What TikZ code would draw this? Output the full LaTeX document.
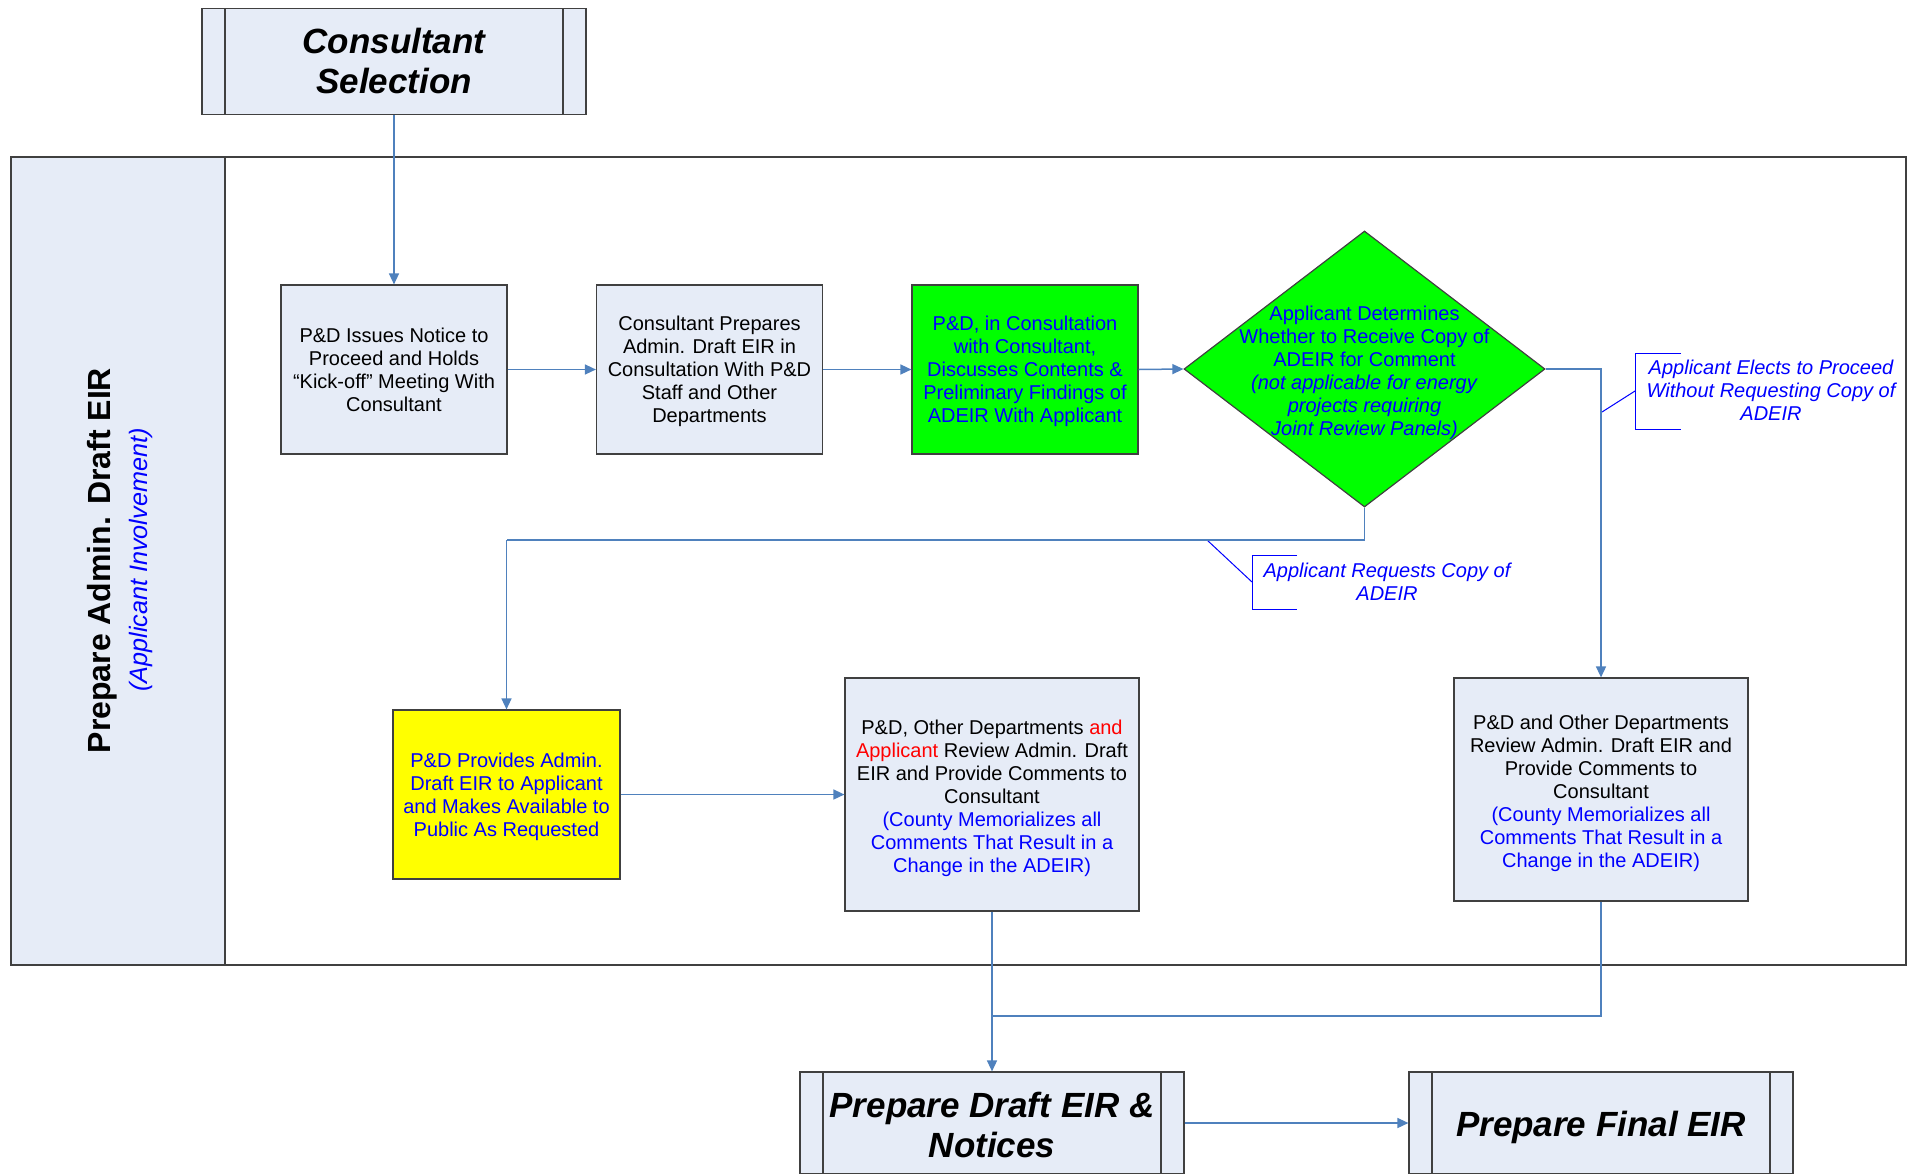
\documentclass[tikz,border=0pt]{standalone}
\usepackage{fontspec}
\setmainfont{Liberation Sans}
\usetikzlibrary{arrows.meta,shapes.geometric,calc}
\definecolor{boxfill}{RGB}{230,236,247}
\definecolor{conn}{RGB}{79,129,189}
\definecolor{edge}{RGB}{64,64,64}
\definecolor{txtblue}{RGB}{0,0,255}
\definecolor{txtred}{RGB}{255,0,0}
\definecolor{grn}{RGB}{0,255,0}
\definecolor{ylw}{RGB}{255,255,0}
\begin{document}
\begin{tikzpicture}[x=0.5pt,y=-0.5pt,
  every node/.style={inner sep=0pt},
  procbox/.style={draw=edge,line width=0.6pt,fill=boxfill,minimum width=113pt,minimum height=84.5pt},
  bigbox/.style={procbox,minimum width=147pt},
  boxtext/.style={align=center,font=\fontsize{10}{11.5}\selectfont},
  subproc/.style={draw=edge,line width=0.6pt,fill=boxfill,
    minimum width=192pt,minimum height=53pt,
    path picture={
      \draw[edge,line width=0.6pt] ([xshift=11.5pt]path picture bounding box.north west) -- ([xshift=11.5pt]path picture bounding box.south west);
      \draw[edge,line width=0.6pt] ([xshift=-11.5pt]path picture bounding box.north east) -- ([xshift=-11.5pt]path picture bounding box.south east);}},
  subtext/.style={align=center,font=\fontsize{17.5}{20}\selectfont\bfseries\itshape},
  arr/.style={draw=conn,line width=0.75pt,-{Triangle[length=5.5pt,width=5pt]}},
  ln/.style={draw=conn,line width=0.75pt},
  annot/.style={align=center,text=txtblue,font=\fontsize{10}{11.5}\selectfont\itshape},
  brk/.style={draw=txtblue,line width=0.5pt}]
\useasboundingbox (0,0) rectangle (1910,1173);

% swimlane
\draw[edge,line width=0.6pt] (11,157) rectangle (1906,965);
\filldraw[draw=edge,line width=0.6pt,fill=boxfill] (11,157) rectangle (225,965);
\node[rotate=90,anchor=base,font=\fontsize{16}{19}\selectfont\bfseries] (lanetitle) at (110,560.5) {Prepare Admin. Draft EIR};
\node[rotate=90,anchor=base,text=txtblue,font=\fontsize{12.6}{15}\selectfont\itshape] (lanesub) at (147,560) {(Applicant Involvement)};

% boxes
\node[subproc] (cs) at (394,61.5) {};
\node[subtext] (cstxt) at (394,61) {Consultant\\Selection};
\node[procbox] (b1) at (394,369.5) {};
\node[boxtext] (b1txt) at (394,369.5) {P\&D Issues Notice to\\Proceed and Holds\\“Kick-off” Meeting With\\Consultant};
\node[procbox] (b2) at (709.5,369.5) {};
\node[boxtext] (b2txt) at (709.5,371.5) {Consultant Prepares\\Admin. Draft EIR in\\Consultation With P\&D\\Staff and Other\\Departments};
\node[procbox,fill=grn,draw=edge] (b3) at (1025,369.5) {};
\node[boxtext,text=txtblue] (b3txt) at (1025,371.5) {P\&D, in Consultation\\with Consultant,\\Discusses Contents \&\\Preliminary Findings of\\ADEIR With Applicant};
\node[draw=edge,line width=0.6pt,fill=grn,diamond,minimum width=180.5pt,minimum height=138pt] (dec) at (1364.5,369) {};
\node[boxtext,text=txtblue] (dectxt) at (1364.5,373) {Applicant Determines\\Whether to Receive Copy of\\ADEIR for Comment\\\textit{(not applicable for energy}\\\textit{projects requiring}\\\textit{Joint Review Panels)}};
\node[procbox,fill=ylw,minimum width=113.5pt] (yel) at (506.5,794.5) {};
\node[boxtext,text=txtblue] (yeltxt) at (506.5,796.5) {P\&D Provides Admin.\\Draft EIR to Applicant\\and Makes Available to\\Public As Requested};
\node[bigbox,minimum height=116.5pt] (r1) at (992,794.5) {};
\node[boxtext] (r1txt) at (992,798.5) {P\&D, Other Departments \textcolor{txtred}{and}\\\textcolor{txtred}{Applicant} Review Admin. Draft\\EIR and Provide Comments to\\Consultant\\\textcolor{txtblue}{(County Memorializes all}\\\textcolor{txtblue}{Comments That Result in a}\\\textcolor{txtblue}{Change in the ADEIR)}};
\node[bigbox,minimum height=111.5pt] (r2) at (1601,789.5) {};
\node[boxtext] (r2txt) at (1601,793.5) {P\&D and Other Departments\\Review Admin. Draft EIR and\\Provide Comments to\\Consultant\\\textcolor{txtblue}{(County Memorializes all}\\\textcolor{txtblue}{Comments That Result in a}\\\textcolor{txtblue}{Change in the ADEIR)}};
\node[subproc,minimum height=51pt] (draft) at (992,1123) {};
\node[subtext] (drafttxt) at (992,1124.5) {Prepare Draft EIR \&\\Notices};
\node[subproc,minimum height=51pt] (final) at (1601,1123) {};
\node[subtext] (finaltxt) at (1601,1127.5) {Prepare Final EIR};

% annotations
\node[annot] (ann1) at (1771,390) {Applicant Elects to Proceed\\Without Requesting Copy of\\ADEIR};
\node[annot] (ann2) at (1387,582) {Applicant Requests Copy of\\ADEIR};
\draw[brk] (1681,353) -- (1635,353) -- (1635,429) -- (1681,429);
\coordinate (a1s) at (1602,412);
\coordinate (a1e) at (1635,391);
\draw[brk] (a1s) -- (a1e);
\draw[brk] (1297,555) -- (1252,555) -- (1252,609) -- (1297,609);
\coordinate (a2s) at (1207,540);
\coordinate (a2e) at (1252,582);
\draw[brk] (a2s) -- (a2e);

% connectors
\draw[arr] (cs.south) -- (b1.north);
\draw[arr] (b1.east) -- (b2.west);
\draw[arr] (b2.east) -- (b3.west);
\draw[arr] (b3.east) -- (dec.west);
\draw[arr] (dec.east) -| (r2.north);
\coordinate (j1) at (506.5,540);
\draw[ln] (dec.south) |- (j1);
\draw[arr] (j1) -- (yel.north);
\draw[arr] (yel.east) -- (r1.west);
\coordinate (m1) at (992,1016);
\draw[ln] (r2.south) |- (m1);
\draw[arr] (r1.south) -- (draft.north);
\draw[arr] (draft.east) -- (final.west);
\end{tikzpicture}
\end{document}
